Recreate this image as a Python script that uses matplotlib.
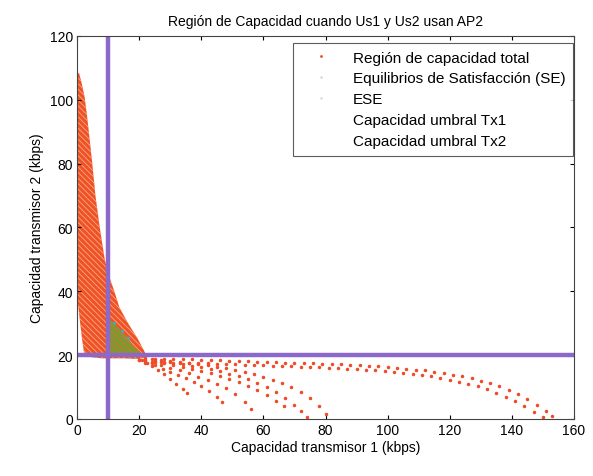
import numpy as np
import matplotlib
matplotlib.use("Agg")
import matplotlib.pyplot as plt
from matplotlib.lines import Line2D

plt.rcParams['font.family'] = ['Liberation Sans', 'DejaVu Sans']
plt.rcParams['hatch.linewidth'] = 0.6

# outline of the dense part of the capacity region near the y axis
wedge_x = [0, 0.6, 1.4, 2.4, 3.2, 4.0, 4.9, 5.9, 7.3, 8.9, 10.2, 12.0, 13.6,
           16.4, 19.6, 21.5, 22.5, 20.0, 15.0, 8.0, 3.5, 2.2, 1.6, 1.0, 0.3, 0]
wedge_y = [108, 108.5, 105.5, 101, 95, 88, 80, 70, 60, 50, 45, 40, 35,
           30, 25, 21.5, 19.5, 18.8, 19.0, 19.0, 19.5, 21, 25, 30, 36, 40]

# lower-right branches of the capacity region (dots)
branches_x = [
    [20, 22, 24, 26, 28, 30, 32, 34, 35.5],
    [20, 22.5, 25, 27.5, 30, 32.5, 35, 37.5, 40, 42.5, 45, 46.5],
    [21, 24, 27, 30, 33, 36, 39, 42, 45, 48, 51, 54, 56],
    [22, 25, 28, 31, 34, 37, 40, 43, 46, 49, 52, 55, 58, 61, 64, 66.5],
    [22, 25, 28, 31, 34, 37, 40, 43, 46, 49, 52, 55, 58, 61, 64, 67, 70,
     72, 74],
    [24, 27, 30, 33, 36, 39, 42, 45, 48, 51, 54, 57, 60, 63, 66, 69, 72,
     75, 78, 80],
    [24, 27, 30, 33, 36, 39, 42, 45, 48, 51, 54, 57, 60, 63, 66, 69, 72,
     75, 78, 81, 84, 87, 90, 93, 96, 99, 102, 105, 108, 111, 114, 117,
     120, 123, 126, 129, 132, 135, 138, 141, 144, 147, 150],
    [22, 25, 28, 31, 34, 37, 40, 43, 46, 49, 52, 55, 58, 61, 64, 67, 70,
     73, 76, 79, 82, 85, 88, 91, 94, 97, 100, 103, 106, 109, 112, 115,
     118, 121, 124, 127, 130, 133, 136, 139, 142, 145, 148, 151, 153],
]
branches_y = [
    [18.5, 17.5, 16.5, 15.3, 14, 12.5, 11, 9.3, 8],
    [18.5, 17.7, 16.8, 15.8, 14.8, 13.8, 12.7, 11.5, 10.2, 8.7, 6.8, 5.2],
    [18.5, 17.7, 16.9, 16.1, 15.2, 14.3, 13.3, 12.2, 11, 9.6, 7.8, 5.2, 3],
    [18.3, 17.9, 17.4, 16.9, 16.3, 15.7, 15, 14.3, 13.5, 12.6, 11.6, 10.4,
     9, 7.4, 5.6, 4],
    [18.6, 18.3, 18, 17.6, 17.2, 16.7, 16.2, 15.6, 15, 14.2, 13.4, 12.4,
     11.3, 10, 8.5, 6.7, 4.5, 2.5, 0.5],
    [18.7, 18.5, 18.2, 17.9, 17.6, 17.2, 16.8, 16.4, 15.9, 15.3, 14.7, 14,
     13.2, 12.3, 11.2, 10, 8.5, 6.7, 4.2, 1.5],
    [18, 17.9, 17.8, 17.7, 17.6, 17.5, 17.4, 17.3, 17.2, 17.1, 17, 16.9,
     16.8, 16.7, 16.6, 16.5, 16.4, 16.3, 16.2, 16.1, 16, 15.8, 15.7, 15.5,
     15.3, 15.1, 14.8, 14.5, 14.2, 13.8, 13.4, 12.9, 12.3, 11.7, 11, 10.2,
     9.3, 8.2, 7, 5.6, 4, 2.3, 0.5],
    [19, 18.95, 18.9, 18.85, 18.8, 18.7, 18.6, 18.5, 18.4, 18.3, 18.2,
     18.1, 18, 17.9, 17.8, 17.7, 17.6, 17.5, 17.4, 17.3, 17.2, 17.1, 17,
     16.8, 16.7, 16.5, 16.3, 16.1, 15.8, 15.5, 15.2, 14.8, 14.4, 13.9,
     13.4, 12.7, 12, 11.2, 10.3, 9.1, 7.8, 6.2, 4.5, 2.5, 1]
]

# satisfaction equilibria region outline
se_x = [10, 11.5, 13.5, 16, 18.5, 21, 21, 10]
se_y = [31, 30.5, 28.5, 25.5, 22.5, 20.3, 20, 20]

# ESE points
ese_x = [12, 14.5, 16.5]
ese_y = [30, 27.5, 25.5]

umbral_tx1 = 10
umbral_tx2 = 20

red = '#EE4B26'
purple = '#8C68C8'

fig = plt.figure(figsize=(5.93, 4.77), dpi=100)
ax = fig.add_axes([0.130, 0.1195, 0.838, 0.803])

ax.fill(wedge_x, wedge_y, facecolor='#EF5226', edgecolor='#F9A882',
        hatch='\\' * 6, linewidth=0)

for bx, by in zip(branches_x, branches_y):
    ax.plot(bx, by, linestyle='none', marker='.', ms=3, color=red)

ax.fill(se_x, se_y, facecolor='#7E9A2E', edgecolor='#D8703A',
        hatch='\\' * 5, linewidth=0)

ax.plot(ese_x, ese_y, linestyle='none', marker='.', ms=2.5, color='#4FA3C8')

ax.axvline(umbral_tx1, color=purple, lw=3.2)
ax.axhline(umbral_tx2, color=purple, lw=3.2)

ax.set_xlim(0, 160)
ax.set_ylim(0, 120)
ax.set_xticks(np.arange(0, 161, 20))
ax.set_yticks(np.arange(0, 121, 20))
ax.tick_params(direction='in', length=3, top=True, right=True,
               labelsize=10, pad=3)
for sp in ax.spines.values():
    sp.set_color('#444444')
    sp.set_linewidth(0.8)

ax.set_title('Región de Capacidad cuando Us1 y Us2 usan AP2', fontsize=10, pad=8)
ax.set_xlabel('Capacidad transmisor 1 (kbps)', fontsize=10, labelpad=2)
ax.set_ylabel('Capacidad transmisor 2 (kbps)', fontsize=10, labelpad=4)

handles = [
    Line2D([], [], linestyle='none', marker='.', ms=2, color=red),
    Line2D([], [], linestyle='none', marker='.', ms=0.5, color='#7E9A2E'),
    Line2D([], [], linestyle='none', marker='.', ms=0.5, color='#4FA3C8'),
    Line2D([], [], linestyle='none'),
    Line2D([], [], linestyle='none'),
]
labels = ['Región de capacidad total', 'Equilibrios de Satisfacción (SE)',
          'ESE', 'Capacidad umbral Tx1', 'Capacidad umbral Tx2']
leg = ax.legend(handles, labels, loc='upper right', bbox_to_anchor=(0.998, 0.982),
                fontsize=11, frameon=True, fancybox=False, handlelength=2.6,
                handletextpad=0.8, labelspacing=0.45, borderpad=0.5,
                borderaxespad=0)
leg.get_frame().set_edgecolor('#333333')
leg.get_frame().set_linewidth(0.8)

fig.savefig('out.png', dpi=100)
